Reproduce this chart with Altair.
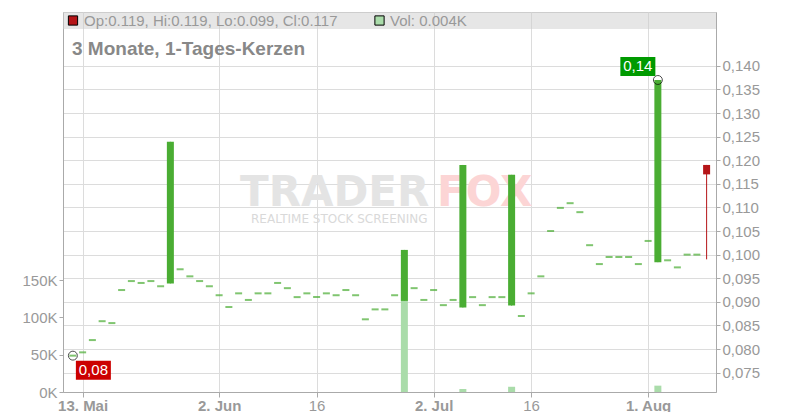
import altair as alt
import pandas as pd

# ---- data (trading days 12 May 2025 .. 11 Aug 2025) ----
dates = pd.bdate_range("2025-05-12", "2025-08-11")

opens = [0.0786, 0.0793, 0.0819, 0.0859, 0.0855, 0.0925, 0.0944, 0.0940, 0.0944, 0.0933,
         0.0939, 0.0969, 0.0954, 0.0944, 0.0933, 0.0914, 0.0889, 0.0918, 0.0904, 0.0918,
         0.0918, 0.0940, 0.0929, 0.0910, 0.0918, 0.0910, 0.0918, 0.0914, 0.0925, 0.0914,
         0.0863, 0.0884, 0.0884, 0.0914, 0.0902, 0.0929, 0.0904, 0.0925, 0.0893, 0.0904,
         0.0888, 0.0910, 0.0893, 0.0910, 0.0910, 0.0892, 0.0870, 0.0918, 0.0954, 0.1050,
         0.1099, 0.1109, 0.1090, 0.1020, 0.0980, 0.0995, 0.0995, 0.0995, 0.0980, 0.1029,
         0.0984, 0.0988, 0.0973, 0.1000, 0.1000, 0.119]
closes = [0.0786, 0.0793, 0.0819, 0.0859, 0.0855, 0.0925, 0.0944, 0.0940, 0.0944, 0.0933,
          0.1239, 0.0969, 0.0954, 0.0944, 0.0933, 0.0914, 0.0889, 0.0918, 0.0904, 0.0918,
          0.0918, 0.0940, 0.0929, 0.0910, 0.0918, 0.0910, 0.0918, 0.0914, 0.0925, 0.0914,
          0.0863, 0.0884, 0.0884, 0.0914, 0.1010, 0.0929, 0.0904, 0.0925, 0.0893, 0.0904,
          0.1190, 0.0910, 0.0893, 0.0910, 0.0910, 0.1169, 0.0870, 0.0918, 0.0954, 0.1050,
          0.1099, 0.1109, 0.1090, 0.1020, 0.0980, 0.0995, 0.0995, 0.0995, 0.0980, 0.1029,
          0.1370, 0.0988, 0.0973, 0.1000, 0.1000, 0.117]
highs = [0.0786, 0.0793, 0.0819, 0.0859, 0.0855, 0.0925, 0.0944, 0.0940, 0.0944, 0.0933,
         0.1239, 0.0969, 0.0954, 0.0944, 0.0933, 0.0914, 0.0889, 0.0918, 0.0904, 0.0918,
         0.0918, 0.0940, 0.0929, 0.0910, 0.0918, 0.0910, 0.0918, 0.0914, 0.0925, 0.0914,
         0.0863, 0.0884, 0.0884, 0.0914, 0.1010, 0.0929, 0.0904, 0.0925, 0.0893, 0.0904,
         0.1190, 0.0910, 0.0893, 0.0910, 0.0910, 0.1169, 0.0870, 0.0918, 0.0954, 0.1050,
         0.1099, 0.1109, 0.1090, 0.1020, 0.0980, 0.0995, 0.0995, 0.0995, 0.0980, 0.1029,
         0.1370, 0.0988, 0.0973, 0.1000, 0.1000, 0.119]
lows = [0.0786, 0.0793, 0.0819, 0.0859, 0.0855, 0.0925, 0.0944, 0.0940, 0.0944, 0.0933,
        0.0939, 0.0969, 0.0954, 0.0944, 0.0933, 0.0914, 0.0889, 0.0918, 0.0904, 0.0918,
        0.0918, 0.0940, 0.0929, 0.0910, 0.0918, 0.0910, 0.0918, 0.0914, 0.0925, 0.0914,
        0.0863, 0.0884, 0.0884, 0.0914, 0.0902, 0.0929, 0.0904, 0.0925, 0.0893, 0.0904,
        0.0888, 0.0910, 0.0893, 0.0910, 0.0910, 0.0892, 0.0870, 0.0918, 0.0954, 0.1050,
        0.1099, 0.1109, 0.1090, 0.1020, 0.0980, 0.0995, 0.0995, 0.0995, 0.0980, 0.1029,
        0.0984, 0.0988, 0.0973, 0.1000, 0.1000, 0.099]
volumes = [0, 0, 0, 0, 0, 0, 0, 0, 0, 0,
           0, 0, 0, 0, 0, 0, 0, 0, 0, 0,
           0, 0, 0, 0, 0, 0, 0, 0, 0, 0,
           0, 0, 0, 0, 150000, 0, 0, 0, 0, 0,
           4000, 0, 0, 0, 0, 7000, 0, 0, 0, 0,
           0, 0, 0, 0, 0, 0, 0, 0, 0, 0,
           8500, 0, 0, 0, 0, 4]

tick_dates = ["2025-05-13", "2025-06-02", "2025-06-16", "2025-07-02", "2025-07-16", "2025-08-01"]
tick_labels = ["13. Mai", "2. Jun", "16", "2. Jul", "16", "1. Aug"]
price_ticks = [0.075, 0.080, 0.085, 0.090, 0.095, 0.100, 0.105, 0.110,
               0.115, 0.120, 0.125, 0.130, 0.135, 0.140]
vol_ticks = [0, 50000, 100000, 150000]

# ---- build table ----
df = pd.DataFrame({"idx": range(len(dates)), "date": dates.strftime("%Y-%m-%d"),
                   "open": opens, "high": highs, "low": lows, "close": closes,
                   "volume": volumes})
df["col"] = ["#b51518" if c < o else "#4aad33" for o, c in zip(df.open, df.close)]
flat = df[df.open == df.close]
body = df[df.open != df.close]
lo_row = df.loc[[df.low.idxmin()]].copy()
hi_row = df.loc[[df.high.idxmax()]].copy()
lo_row["txt"] = [f"{v:.2f}".replace(".", ",") for v in lo_row.low]
hi_row["txt"] = [f"{v:.2f}".replace(".", ",") for v in hi_row.high]
last = df.iloc[-1]
ohlc_text = f"Op:{last.open:.3f}, Hi:{last.high:.3f}, Lo:{last.low:.3f}, Cl:{last.close:.3f}"
vol_text = f"Vol: {last.volume/1000:.3f}K"

tick_idx = [int(dates.get_loc(pd.Timestamp(d))) for d in tick_dates]
label_expr = ""
for i, l in zip(tick_idx, tick_labels):
    label_expr += f"datum.value == {i} ? '{l}' : "
label_expr += "''"
bold_test = " || ".join(f"datum.value == {i}" for i, l in zip(tick_idx, tick_labels) if "." in l)

W, H = 653, 380
GRID = "#dcdcdc"
AX = "#aaaaaa"
LBL = "#999999"

X = alt.X("idx:Q", title=None,
          scale=alt.Scale(domain=[-0.5, 65.45], nice=False, zero=False),
          axis=alt.Axis(values=tick_idx, labelExpr=label_expr, grid=True, gridColor=GRID,
                        domainColor=AX, tickColor=AX, tickSize=5, labelPadding=1,
                        labelFontSize=15, labelColor=LBL,
                        labelFontWeight={"condition": {"test": bold_test, "value": "bold"},
                                         "value": "normal"}))

pscale = alt.Scale(domain=[0.0709, 0.1514], nice=False, zero=False)
paxis = alt.Axis(orient="right", values=price_ticks, grid=True, gridColor=GRID,
                 labelExpr="replace(format(datum.value, '.3f'), '.', ',')",
                 domainColor=AX, tickColor=AX, tickSize=4, labelPadding=2,
                 labelFontSize=15, labelColor=LBL)

def PY(f):
    return alt.Y(f, scale=pscale, axis=paxis, title=None)

base = alt.Chart(df)

vol = alt.Chart(df).mark_bar(width=7, color="#aadcaa").encode(
    x=X,
    y=alt.Y("volume:Q", title=None, scale=alt.Scale(domain=[0, 509000], nice=False),
            axis=alt.Axis(orient="left", values=vol_ticks, grid=False,
                          labelExpr="(datum.value / 1000) + 'K'",
                          domainColor=AX, tickColor=AX, tickSize=4, labelPadding=2,
                          labelFontSize=15, labelColor=LBL)))

wick = base.mark_rule(strokeWidth=1).encode(
    x=X, y=PY("low:Q"), y2="high:Q", color=alt.Color("col:N", scale=None))
bars = alt.Chart(body).mark_bar(width=7).encode(
    x=X, y=PY("open:Q"), y2="close:Q", color=alt.Color("col:N", scale=None))
dashes = alt.Chart(flat).mark_tick(orient="horizontal", size=7, thickness=2).encode(
    x=X, y=PY("close:Q"), color=alt.Color("col:N", scale=None))

lo_circle = alt.Chart(lo_row).mark_point(shape="circle", filled=False, size=80,
                                         color="black", strokeWidth=1).encode(x=X, y=PY("low:Q"))
hi_circle = alt.Chart(hi_row).mark_point(shape="circle", filled=False, size=80,
                                         color="black", strokeWidth=1).encode(x=X, y=PY("high:Q"))
box_shape = "M-1,-0.543L1,-0.543L1,0.543L-1,0.543Z"
lo_box = alt.Chart(lo_row).mark_point(shape=box_shape, size=1225, filled=True, opacity=1,
                                      color="#cc0000", xOffset=20.5, yOffset=14.5).encode(
    x=X, y=PY("low:Q"))
lo_txt = alt.Chart(lo_row).mark_text(color="white", fontSize=15, xOffset=20.5, yOffset=14.5,
                                     baseline="middle").encode(x=X, y=PY("low:Q"), text="txt:N")
hi_box = alt.Chart(hi_row).mark_point(shape=box_shape, size=1225, filled=True, opacity=1,
                                      color="#009a00", xOffset=-20, yOffset=-13.5).encode(
    x=X, y=PY("high:Q"))
hi_txt = alt.Chart(hi_row).mark_text(color="white", fontSize=15, xOffset=-20, yOffset=-13.5,
                                     baseline="middle").encode(x=X, y=PY("high:Q"), text="txt:N")

price = alt.layer(wick, bars, dashes, lo_circle, hi_circle, lo_box, lo_txt, hi_box, hi_txt)

one = pd.DataFrame({"a": [0]})
band = alt.Chart(one).mark_rect(color="#cdcdcd", opacity=0.5).encode(
    x=alt.value(0), x2=alt.value(W), y=alt.value(0), y2=alt.value(17))
sq_red = alt.Chart(one).mark_point(shape="square", size=85, filled=True, opacity=1,
                                   fill="#b51518", stroke="black", strokeWidth=1).encode(
    x=alt.value(10), y=alt.value(8.5))
sq_green = alt.Chart(one).mark_point(shape="square", size=85, filled=True, opacity=1,
                                     fill="#aadcaa", stroke="black", strokeWidth=1).encode(
    x=alt.value(316.5), y=alt.value(8.5))
t_ohlc = alt.Chart(one).mark_text(align="left", baseline="alphabetic", fontSize=15,
                                  color="#999999").encode(
    x=alt.value(21), y=alt.value(14), text=alt.value(ohlc_text))
t_vol = alt.Chart(one).mark_text(align="left", baseline="alphabetic", fontSize=15,
                                 color="#999999").encode(
    x=alt.value(327), y=alt.value(14), text=alt.value(vol_text))
t_title = alt.Chart(one).mark_text(align="left", baseline="alphabetic", fontSize=19,
                                   fontWeight="bold", color="#888888").encode(
    x=alt.value(9), y=alt.value(43), text=alt.value("3 Monate, 1-Tages-Kerzen"))
wm1 = alt.Chart(one).mark_text(align="left", baseline="alphabetic", fontSize=42,
                               font="DejaVu Sans", fontWeight="bold", color="#e4e4e4").encode(
    x=alt.value(177), y=alt.value(194), text=alt.value("TRADER"))
wm2 = alt.Chart(one).mark_text(align="left", baseline="alphabetic", fontSize=42,
                               font="DejaVu Sans", fontWeight="bold", color="#fcd5d5").encode(
    x=alt.value(374), y=alt.value(194), text=alt.value("FOX"))
wm3 = alt.Chart(one).mark_text(align="left", baseline="alphabetic", fontSize=12,
                               font="DejaVu Sans", color="#d9d9d9").encode(
    x=alt.value(188), y=alt.value(211), text=alt.value("REALTIME STOCK SCREENING"))

chart = alt.layer(band, wm1, wm2, wm3, vol, price, sq_red, sq_green, t_ohlc, t_vol, t_title
                  ).resolve_scale(y="independent").properties(
    width=W, height=H,
    autosize=alt.AutoSizeParams(type="none"),
    padding={"left": 55, "top": 4, "right": 76, "bottom": 20},
).configure(font="Liberation Sans").configure_view(stroke="#cccccc")

chart.save("out.html", embed_options={"renderer": "svg", "actions": False})
